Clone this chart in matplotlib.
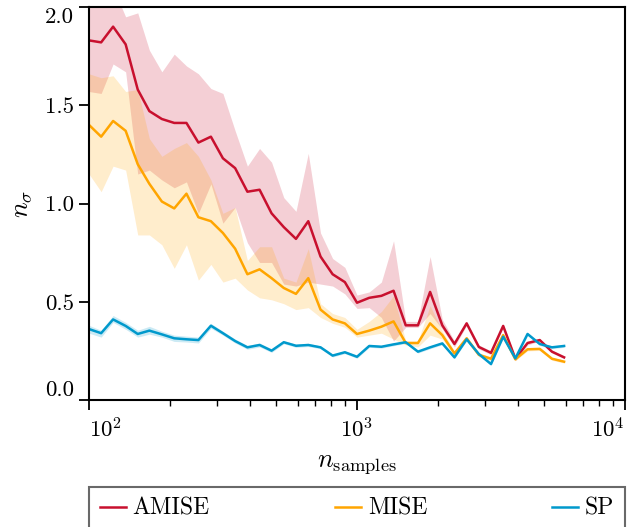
import matplotlib
matplotlib.use("Agg")
import matplotlib.pyplot as plt
import numpy as np

plt.rcParams['font.family'] = 'serif'
plt.rcParams['font.serif'] = ['cmr10']
plt.rcParams['mathtext.fontset'] = 'cm'
plt.rcParams['axes.formatter.use_mathtext'] = True

n_samples = [100, 111, 123, 137, 152, 168, 187, 208, 231, 256,
             285, 316, 351, 390, 433, 480, 533, 592, 658, 731,
             811, 901, 1000, 1111, 1233, 1369, 1520, 1688, 1874, 2081,
             2310, 2565, 2848, 3162, 3511, 3899, 4329, 4807, 5337, 5926]

amise = [1.83, 1.82, 1.90, 1.81, 1.58, 1.47, 1.43, 1.41, 1.41, 1.31,
         1.34, 1.23, 1.18, 1.06, 1.07, 0.95, 0.88, 0.82, 0.91, 0.73,
         0.64, 0.60, 0.495, 0.52, 0.53, 0.556, 0.38, 0.38, 0.55, 0.38,
         0.285, 0.39, 0.27, 0.24, 0.377, 0.21, 0.29, 0.305, 0.246, 0.217]
amise_hi = [2.15, 2.15, 2.10, 1.95, 1.97, 1.78, 1.67, 1.76, 1.70, 1.66,
            1.585, 1.56, 1.37, 1.19, 1.28, 1.21, 1.03, 0.96, 1.255, 0.85,
            0.72, 0.675, 0.534, 0.55, 0.60, 0.81, 0.40, 0.40, 0.73, 0.41,
            0.30, 0.40, 0.28, 0.25, 0.385, 0.22, 0.30, 0.31, 0.255, 0.225]
amise_lo = [1.57, 1.56, 1.71, 1.67, 1.15, 1.17, 1.12, 1.08, 1.11, 0.95,
            1.10, 0.90, 0.98, 0.80, 0.70, 0.70, 0.59, 0.58, 0.60, 0.59,
            0.58, 0.54, 0.466, 0.47, 0.42, 0.30, 0.37, 0.37, 0.44, 0.36,
            0.27, 0.38, 0.26, 0.23, 0.37, 0.20, 0.28, 0.30, 0.24, 0.21]

mise = [1.40, 1.34, 1.42, 1.37, 1.20, 1.10, 1.01, 0.975, 1.05, 0.93,
        0.91, 0.85, 0.77, 0.64, 0.665, 0.62, 0.57, 0.54, 0.62, 0.46,
        0.41, 0.39, 0.336, 0.353, 0.373, 0.40, 0.29, 0.29, 0.39, 0.33,
        0.237, 0.314, 0.23, 0.21, 0.33, 0.207, 0.258, 0.26, 0.21, 0.195]
mise_hi = [1.66, 1.64, 1.65, 1.57, 1.58, 1.33, 1.24, 1.28, 1.31, 1.24,
           1.12, 0.95, 0.98, 0.71, 0.78, 0.78, 0.62, 0.60, 0.77, 0.49,
           0.44, 0.42, 0.36, 0.40, 0.45, 0.53, 0.30, 0.30, 0.48, 0.35,
           0.25, 0.325, 0.24, 0.22, 0.34, 0.215, 0.265, 0.268, 0.218, 0.202]
mise_lo = [1.15, 1.06, 1.19, 1.17, 0.84, 0.84, 0.79, 0.67, 0.79, 0.61,
           0.69, 0.60, 0.62, 0.56, 0.52, 0.51, 0.49, 0.46, 0.47, 0.42,
           0.39, 0.37, 0.32, 0.33, 0.34, 0.31, 0.28, 0.27, 0.33, 0.31,
           0.225, 0.30, 0.22, 0.20, 0.32, 0.20, 0.25, 0.252, 0.202, 0.188]

sp = [0.361, 0.34, 0.41, 0.377, 0.336, 0.353, 0.334, 0.314, 0.309, 0.305,
      0.378, 0.34, 0.30, 0.268, 0.28, 0.251, 0.294, 0.276, 0.28, 0.268,
      0.226, 0.243, 0.22, 0.275, 0.271, 0.283, 0.294, 0.246, 0.268, 0.288,
      0.217, 0.309, 0.234, 0.183, 0.322, 0.212, 0.336, 0.285, 0.268, 0.275]
sp_hi = [0.38, 0.355, 0.43, 0.395, 0.355, 0.375, 0.35, 0.33, 0.325, 0.32,
         0.39, 0.35, 0.31, 0.278, 0.29, 0.26, 0.302, 0.284, 0.288, 0.275,
         0.233, 0.25, 0.228, 0.282, 0.278, 0.29, 0.30, 0.253, 0.275, 0.295,
         0.224, 0.316, 0.241, 0.19, 0.329, 0.219, 0.343, 0.292, 0.275, 0.282]
sp_lo = [0.34, 0.32, 0.395, 0.36, 0.32, 0.335, 0.32, 0.298, 0.295, 0.29,
         0.365, 0.33, 0.29, 0.258, 0.27, 0.242, 0.286, 0.268, 0.272, 0.261,
         0.219, 0.236, 0.212, 0.268, 0.264, 0.276, 0.288, 0.239, 0.261, 0.281,
         0.21, 0.302, 0.227, 0.176, 0.315, 0.205, 0.329, 0.278, 0.261, 0.268]

labels = ['AMISE', 'MISE', 'SP']
colors = ['#C8102E', '#FFA500', '#0099CC']

fig = plt.figure(figsize=(6.27, 5.27), dpi=100)
ax = fig.add_axes([89/627, 1 - 400/527, (625-89)/627, (400-7)/527])

series = [(amise, amise_lo, amise_hi), (mise, mise_lo, mise_hi), (sp, sp_lo, sp_hi)]
for (y, lo, hi), lab, c in zip(series, labels, colors):
    ax.fill_between(n_samples, lo, hi, color=c, alpha=0.2, linewidth=0)
for (y, lo, hi), lab, c in zip(series, labels, colors):
    ax.plot(n_samples, y, color=c, lw=1.8, label=lab)

ax.set_xscale('log')
ax.set_xlim(100, 10000)
ax.set_ylim(0, 2.0)
ax.set_yticks([0.0, 0.5, 1.0, 1.5, 2.0])
ax.set_yticklabels(['0.0', '0.5', '1.0', '1.5', '2.0'])
ax.tick_params(axis='both', which='major', direction='out', length=7, width=1.3, labelsize=16.5)
ax.tick_params(axis='x', which='major', pad=5)
ax.tick_params(axis='y', which='major', pad=4)
ax.tick_params(axis='x', which='minor', direction='out', length=4, width=1.0)
for s in ax.spines.values():
    s.set_linewidth(1.5)

fig.canvas.draw()
xl = ax.get_xticklabels()
vis = [t for t, v in zip(xl, ax.get_xticks()) if 100 <= v <= 10000]
if vis:
    vis[0].set_horizontalalignment('left')
    vis[-1].set_horizontalalignment('right')
yl = ax.get_yticklabels()
yl[0].set_verticalalignment('bottom')
yl[-1].set_verticalalignment('top')

ax.set_xlabel(r'$n_{\mathrm{samples}}$', fontsize=19, labelpad=8)
ax.set_ylabel(r'$n_\sigma$', fontsize=19, labelpad=8)

leg = ax.legend(loc='upper left', bbox_to_anchor=(0.0, -0.222, 1.0, 0.0), ncol=3, mode='expand',
                fontsize=17, frameon=True, fancybox=False, edgecolor='#444444',
                handlelength=1.1, handletextpad=0.3, borderaxespad=0.0, borderpad=0.45)
leg.get_frame().set_linewidth(1.5)

fig.savefig('out.png', dpi=100)
